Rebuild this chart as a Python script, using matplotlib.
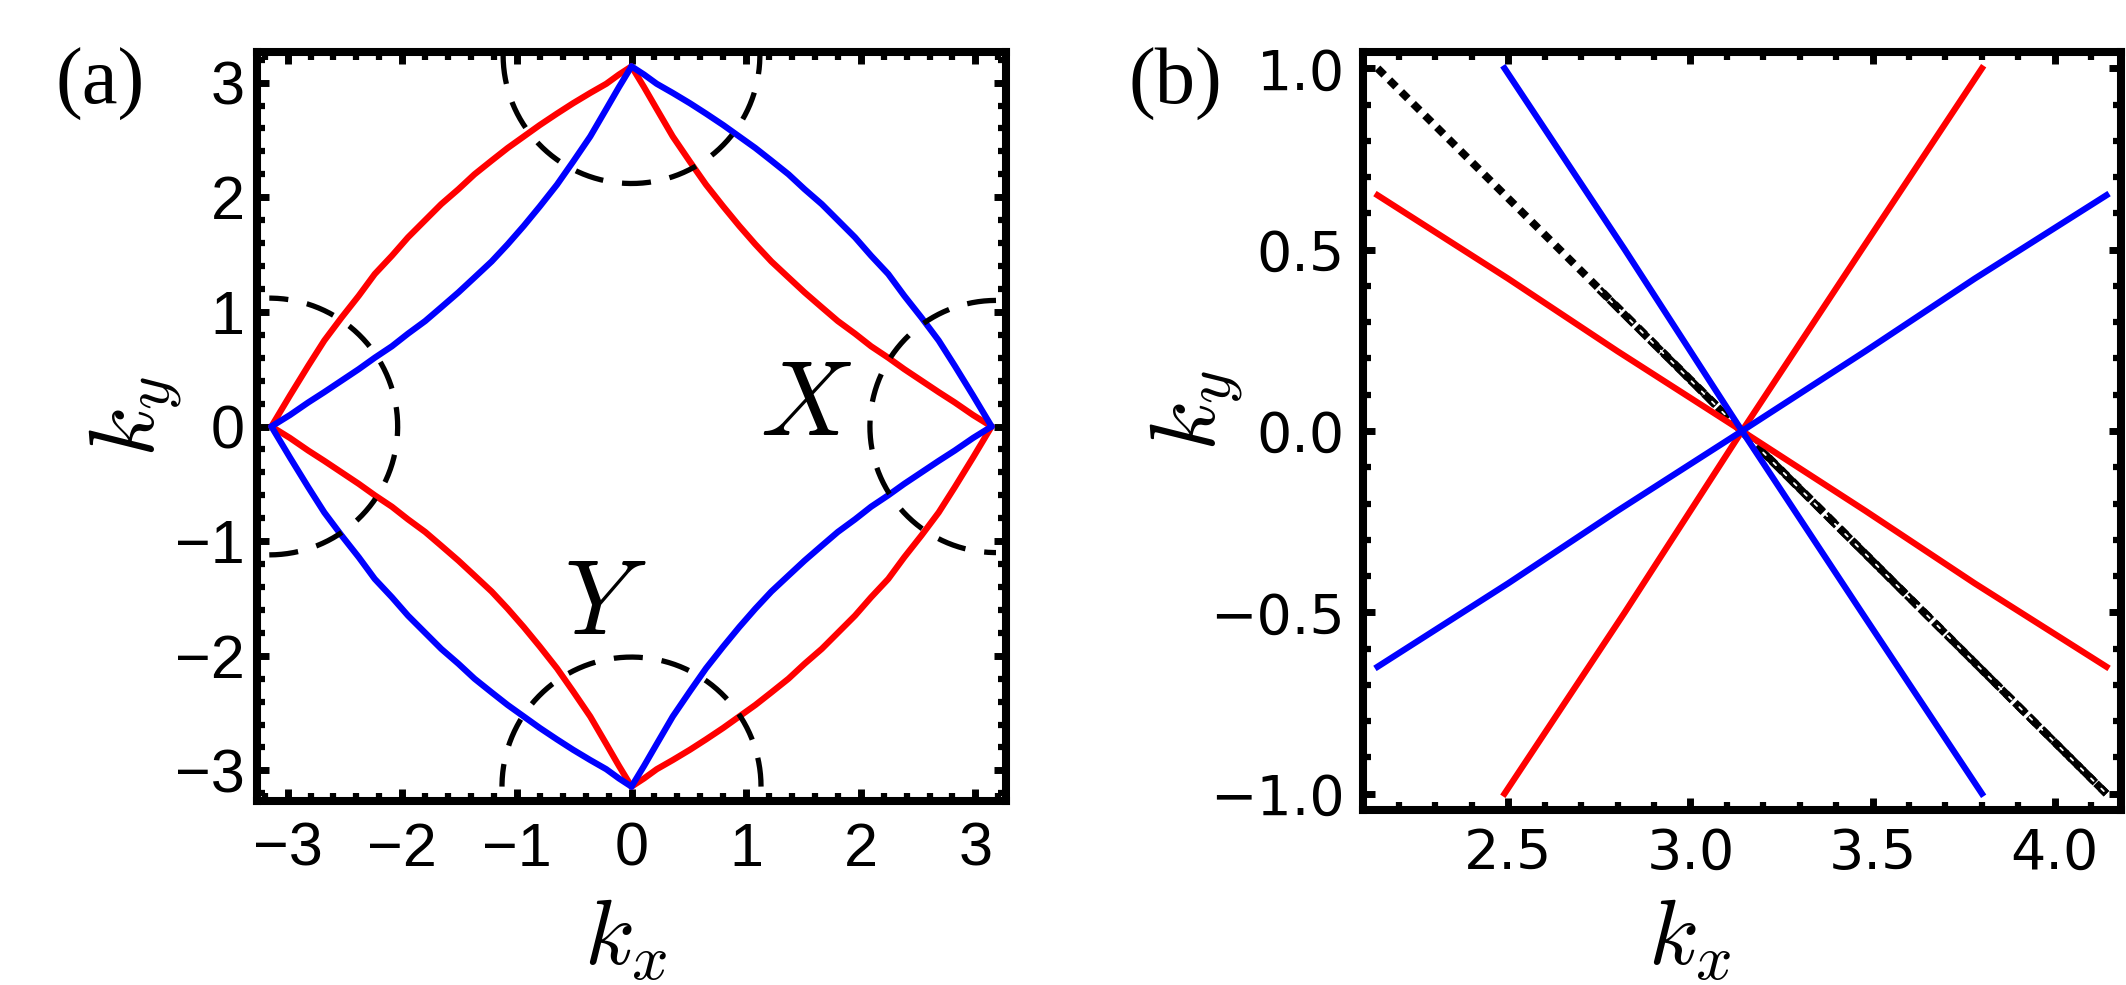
import numpy as np
import matplotlib
matplotlib.use("Agg")
import matplotlib.pyplot as plt
from matplotlib.ticker import MultipleLocator, FixedLocator

plt.rcParams['mathtext.fontset'] = 'cm'

PI = np.pi
# ---------------- data: panel (a) ----------------
# red outer arc in quadrant II, from (-pi,0) to (0,pi)
red_outer_x = [-PI, -2.98, -2.82, -2.68, -2.53, -2.38, -2.24, -2.09, -1.95, -1.80, -1.66,
               -1.51, -1.37, -1.22, -1.08, -0.94, -0.80, -0.65, -0.51, -0.36, -0.22, -0.11, 0.0]
red_outer_y = [0.0, 0.27, 0.53, 0.75, 0.95, 1.14, 1.33, 1.49, 1.65, 1.80, 1.94,
               2.07, 2.20, 2.32, 2.43, 2.53, 2.63, 2.73, 2.82, 2.91, 2.99, 3.07, PI]
# blue inner arc in quadrant II
blue_inner_x = [-PI, -2.98, -2.82, -2.68, -2.53, -2.38, -2.24, -2.09, -1.95, -1.80, -1.66,
                -1.51, -1.37, -1.22, -1.08, -0.94, -0.80, -0.65, -0.51, -0.36, -0.22, -0.11, 0.0]
blue_inner_y = [0.0, 0.10, 0.21, 0.30, 0.40, 0.50, 0.60, 0.70, 0.81, 0.92, 1.04,
                1.17, 1.30, 1.44, 1.59, 1.75, 1.92, 2.11, 2.31, 2.53, 2.77, 2.96, PI]

# dashed semicircles: centre x, centre y, radius, start angle, end angle (deg)
circ_cx = [0.0, 0.0, -3.16, 3.18]
circ_cy = [3.24, -PI, 0.0, 0.0]
circ_r = [1.12, 1.13, 1.12, 1.10]
circ_a0 = [180, 0, -90, 90]
circ_a1 = [360, 180, 90, 270]

xticks_a = [-3, -2, -1, 0, 1, 2, 3]
yticks_a = [-3, -2, -1, 0, 1, 2, 3]
ticklabels_a = ["\u22123", "\u22122", "\u22121", "0", "1", "2", "3"]

# ---------------- data: panel (b) ----------------
red1_x = [2.1416, 2.50, 2.80, PI, 3.48, 3.78, 4.1416]
red1_y = [0.65, 0.42, 0.22, 0.0, -0.22, -0.42, -0.65]
red2_x = [2.49, 2.82, PI, 3.47, 3.80]
red2_y = [-1.0, -0.5, 0.0, 0.5, 1.0]
blue1_x = [2.49, 2.82, PI, 3.47, 3.80]
blue1_y = [1.0, 0.5, 0.0, -0.5, -1.0]
blue2_x = [2.1416, 2.50, 2.80, PI, 3.48, 3.78, 4.1416]
blue2_y = [-0.65, -0.42, -0.22, 0.0, 0.22, 0.42, 0.65]
black_x = [2.1416, 4.1416]
black_y = [1.0, -1.0]
black2_x = [2.75, 4.1416]
black2_y = [0.39, -1.0]

xticks_b = [2.5, 3.0, 3.5, 4.0]
yticks_b = [-1.0, -0.5, 0.0, 0.5, 1.0]

RED = '#ff0000'
BLUE = '#0000ff'

W, H = 2126, 985
fig = plt.figure(figsize=(W / 100, H / 100), dpi=100)

def px_axes(x0, y0, x1, y1):
    return fig.add_axes([x0 / W, 1 - y1 / H, (x1 - x0) / W, (y1 - y0) / H])

A_BOX = (257, 52, 1006, 801)
B_BOX = (1363, 52, 2121, 810)
axa = px_axes(*A_BOX)
axb = px_axes(*B_BOX)

def frac(box, xpx, ypx):
    x0, y0, x1, y1 = box
    return (xpx - x0) / (x1 - x0), (y1 - ypx) / (y1 - y0)

SPW = 5.8
for ax in (axa, axb):
    for s in ax.spines.values():
        s.set_linewidth(SPW)
    ax.tick_params(which='both', direction='in', top=True, right=True)
    ax.tick_params(which='major', length=8.5, width=5)
    ax.tick_params(which='minor', length=5.5, width=4.5)

# ---- panel (a)
lw = 4.5
rx, ry = np.array(red_outer_x), np.array(red_outer_y)
bx, by = np.array(blue_inner_x), np.array(blue_inner_y)
kw = dict(lw=lw, solid_capstyle='round', solid_joinstyle='round')
# red: outer arcs in QII and QIV, inner arcs in QI and QIII
axa.plot(rx, ry, color=RED, **kw)
axa.plot(-rx, -ry, color=RED, **kw)
axa.plot(-bx, by, color=RED, **kw)
axa.plot(bx, -by, color=RED, **kw)
# blue: outer arcs in QI and QIII, inner arcs in QII and QIV
axa.plot(-rx, ry, color=BLUE, **kw)
axa.plot(rx, -ry, color=BLUE, **kw)
axa.plot(bx, by, color=BLUE, **kw)
axa.plot(-bx, -by, color=BLUE, **kw)

for cx, cy, r, a0, a1 in zip(circ_cx, circ_cy, circ_r, circ_a0, circ_a1):
    t = np.radians(np.linspace(a0, a1, 200))
    axa.plot(cx + r * np.cos(t), cy + r * np.sin(t), color='black', lw=3.8,
             linestyle=(0, (5.5, 3.6)), dash_capstyle='butt')

lim = PI * 1.04
axa.set_xlim(-lim, lim)
axa.set_ylim(-lim, lim)
axa.xaxis.set_major_locator(FixedLocator(xticks_a))
axa.yaxis.set_major_locator(FixedLocator(yticks_a))
axa.xaxis.set_minor_locator(MultipleLocator(0.2))
axa.yaxis.set_minor_locator(MultipleLocator(0.2))
axa.set_xticklabels(ticklabels_a, fontsize=44, family='Liberation Sans')
axa.set_yticklabels(ticklabels_a, fontsize=44, family='Liberation Sans')
axa.tick_params(axis='x', pad=15)
axa.tick_params(axis='y', pad=9)
axa.set_xlabel('$k_x$', fontsize=66)
axa.set_ylabel('$k_y$', fontsize=66)
axa.xaxis.set_label_coords(*frac(A_BOX, 626, 893))
axa.yaxis.set_label_coords(*frac(A_BOX, 184, 416))

axa.text(1.52, 0.18, '$X$', fontsize=76, ha='center', va='center')
axa.text(-0.23, -1.56, '$Y$', fontsize=76, ha='center', va='center')

# ---- panel (b)
axb.plot(black_x, black_y, color='black', lw=5.6, linestyle=(0, (1.2, 0.95)),
         dash_capstyle='butt', zorder=1)
axb.plot(black2_x, black2_y, color='black', lw=5.6, linestyle=(0.6, (2.0, 0.45)),
         dash_capstyle='butt', zorder=1)
axb.plot(black2_x, black2_y, color='white', lw=1.3, linestyle=(0, (2.0, 6.0)),
         dash_capstyle='round', zorder=1.5)
axb.plot(red1_x, red1_y, color=RED, lw=lw, zorder=2)
axb.plot(red2_x, red2_y, color=RED, lw=lw, zorder=2)
axb.plot(blue1_x, blue1_y, color=BLUE, lw=lw, zorder=2)
axb.plot(blue2_x, blue2_y, color=BLUE, lw=lw, zorder=2)

axb.set_xlim(PI - 1.04, PI + 1.04)
axb.set_ylim(-1.045, 1.045)
axb.xaxis.set_major_locator(FixedLocator(xticks_b))
axb.yaxis.set_major_locator(FixedLocator(yticks_b))
axb.xaxis.set_minor_locator(MultipleLocator(0.1))
axb.yaxis.set_minor_locator(MultipleLocator(0.1))
axb.set_xticklabels(['%.1f' % v for v in xticks_b], fontsize=40, family='DejaVu Sans')
axb.set_yticklabels([('%.1f' % v).replace('-', '\u2212') for v in yticks_b],
                    fontsize=40, family='DejaVu Sans')
axb.tick_params(axis='x', pad=12)
axb.tick_params(axis='y', pad=13)
axb.set_xlabel('$k_x$', fontsize=66)
axb.set_ylabel('$k_y$', fontsize=66)
axb.xaxis.set_label_coords(*frac(B_BOX, 1690, 893))
axb.yaxis.set_label_coords(*frac(B_BOX, 1245, 410))

fig.text(100 / W, 1 - 84 / H, '(a)', fontsize=58, family='Liberation Serif',
         ha='center', va='center')
fig.text(1175 / W, 1 - 84 / H, '(b)', fontsize=58, family='Liberation Serif',
         ha='center', va='center')

fig.savefig('out.png', dpi=100)
